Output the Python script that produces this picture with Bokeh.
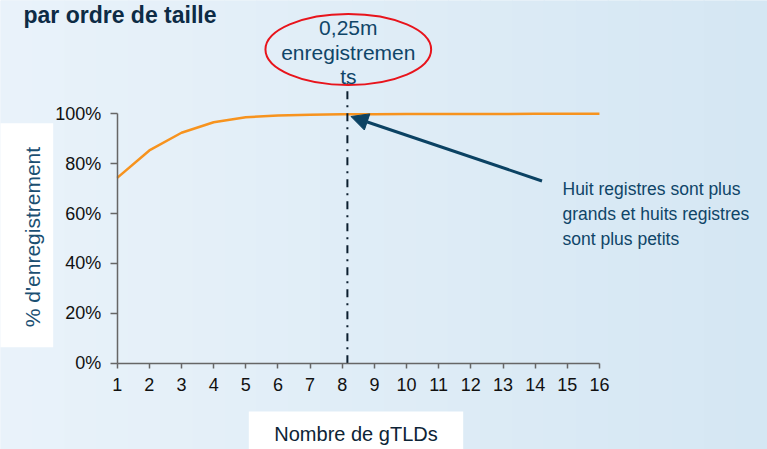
from bokeh.plotting import figure
from bokeh.models import (FixedTicker, Label, Arrow, NormalHead, BoxAnnotation, Range1d)
from bokeh.embed import file_html
from bokeh.resources import INLINE

# ---- data ----
gtlds = list(range(1, 17))
share = [0.743, 0.853, 0.924, 0.966, 0.986, 0.993, 0.996, 0.998, 0.9985, 0.999,
         0.9992, 0.9994, 0.9996, 0.9998, 0.9999, 1.0]
x_ticks = gtlds
y_ticks = [0, 0.2, 0.4, 0.6, 0.8, 1.0]
y_tick_labels = ["0%", "20%", "40%", "60%", "80%", "100%"]
cutoff_x = 8.16          # point where 0,25m registrations is reached
title_text = "par ordre de taille"
x_label = "Nombre de gTLDs"
y_label = "% d'enregistrement"
bubble_lines = ["0,25m", "enregistremen", "ts"]
note_lines = ["Huit registres sont plus", "grands et huits registres", "sont plus petits"]

# ---- layout calibration (page pixels -> data) ----
W, H = 767, 449
OFF = 0                        # canvas offset on the page
X0_PX, XSTEP = 116.7, 32.15    # page px of x=1 and px per gTLD
Y0_PX, YSPAN = 362.7, 249.4    # page px of 0% and px per 100%
BASE_FIX = 8.5                 # label baseline correction (px)

def dx(px):
    return 1 + (px - X0_PX) / XSTEP

def dy(py):
    return (Y0_PX - py) / YSPAN

def by(py):
    return dy(py - BASE_FIX)

NAVY = "#0f4568"
FONT = "Liberation Sans"

p = figure(width=W, height=H, output_backend="svg", toolbar_location=None,
           x_range=Range1d(dx(OFF), dx(OFF + W)), y_range=Range1d(dy(OFF + H), dy(OFF)),
           min_border=0, min_border_left=0, min_border_right=0,
           min_border_top=0, min_border_bottom=0)
p.background_fill_color = "#e3eef8"
p.border_fill_color = "#e3eef8"
p.outline_line_color = None
p.grid.grid_line_color = None

# soft left-to-right background gradient (slide backdrop)
c0, c1 = (0xe9, 0xf2, 0xfa), (0xd5, 0xe7, 0xf3)
n = 24
for i in range(n):
    t = i / (n - 1)
    col = "#%02x%02x%02x" % tuple(round(a + (b - a) * t) for a, b in zip(c0, c1))
    p.add_layout(BoxAnnotation(left=dx(OFF + W * i / n), right=dx(OFF + W * (i + 1) / n + 1),
                               bottom=dy(OFF + H + 5), top=dy(OFF - 5),
                               fill_color=col, fill_alpha=1, line_color=None,
                               level="underlay"))

# axes drawn inside the frame at fixed locations
p.xaxis.fixed_location = 0
p.xaxis.bounds = (1, 16)
p.xaxis.ticker = FixedTicker(ticks=x_ticks)
p.yaxis.fixed_location = 1
p.yaxis.bounds = (0, 1)
p.yaxis.ticker = FixedTicker(ticks=y_ticks)
p.yaxis.major_label_overrides = {t: l for t, l in zip(y_ticks, y_tick_labels)}
for ax in (p.xaxis, p.yaxis):
    ax.axis_line_color = "#666666"
    ax.axis_line_width = 1.5
    ax.major_tick_line_color = "#666666"
    ax.major_tick_line_width = 1.5
    ax.major_tick_in = 0
    ax.minor_tick_line_color = None
    ax.major_label_text_font = FONT
    ax.major_label_text_color = "#111111"
p.xaxis.major_tick_out = 5
p.xaxis.major_label_standoff = 10
p.xaxis.major_label_text_font_size = "18px"
p.yaxis.major_tick_out = 7
p.yaxis.major_label_standoff = 9
p.yaxis.major_label_text_font_size = "18px"

# curve
p.line(gtlds, share, line_color="#f7931e", line_width=2.5)

# vertical dash-dot marker
p.segment(x0=[cutoff_x], y0=[0], x1=[cutoff_x], y1=[dy(82)],
          line_color="#0b1e2e", line_width=2, line_dash="8 6 2 6")

# red ellipse
p.ellipse(x=[dx(347.8)], y=[dy(49)], width=[165.7 / XSTEP], height=[71 / YSPAN],
          fill_color=None, line_color="#e8141c", line_width=2)
for line, base in zip(bubble_lines, [35, 60, 84]):
    p.add_layout(Label(x=dx(347.8), y=by(base), text=line, text_align="center",
                       text_baseline="alphabetic", text_font=FONT,
                       text_font_size="21px", text_color=NAVY))

# arrow
p.add_layout(Arrow(x_start=dx(541.5), y_start=dy(180.5), x_end=dx(350.5), y_end=dy(116),
                   line_color="#0b4263", line_width=3,
                   end=NormalHead(size=17, fill_color="#0b4263", line_color="#0b4263")))

# note text
for line, base in zip(note_lines, [197, 222, 247]):
    p.add_layout(Label(x=dx(562), y=by(base), text=line, text_align="left",
                       text_baseline="alphabetic", text_font=FONT,
                       text_font_size="17.5px", text_color=NAVY))

# axis-title boxes
p.add_layout(BoxAnnotation(left=dx(OFF - 5), right=dx(52.7), bottom=dy(346.7), top=dy(122.7),
                           fill_color="white", fill_alpha=1, line_color=None))
p.add_layout(BoxAnnotation(left=dx(248.3), right=dx(462.7), bottom=dy(OFF + H + 5), top=dy(411),
                           fill_color="white", fill_alpha=1, line_color=None))
p.add_layout(Label(x=dx(32), y=dy(236.5), text=y_label, angle=1.5707963,
                   text_align="center", text_baseline="middle", text_font=FONT,
                   text_font_size="21px", text_color="#1b4f72"))
p.add_layout(Label(x=dx(355.5), y=by(441.5), text=x_label, text_align="center",
                   text_baseline="alphabetic", text_font=FONT,
                   text_font_size="20px", text_color="#0d2436"))

# title (kept fully inside the canvas)
p.add_layout(Label(x=dx(23), y=by(23), text=title_text, text_align="left",
                   text_baseline="alphabetic", text_font=FONT, text_font_style="bold",
                   text_font_size="23px", text_color="#0d2b45"))

open("out.html", "w").write(file_html(p, INLINE))
